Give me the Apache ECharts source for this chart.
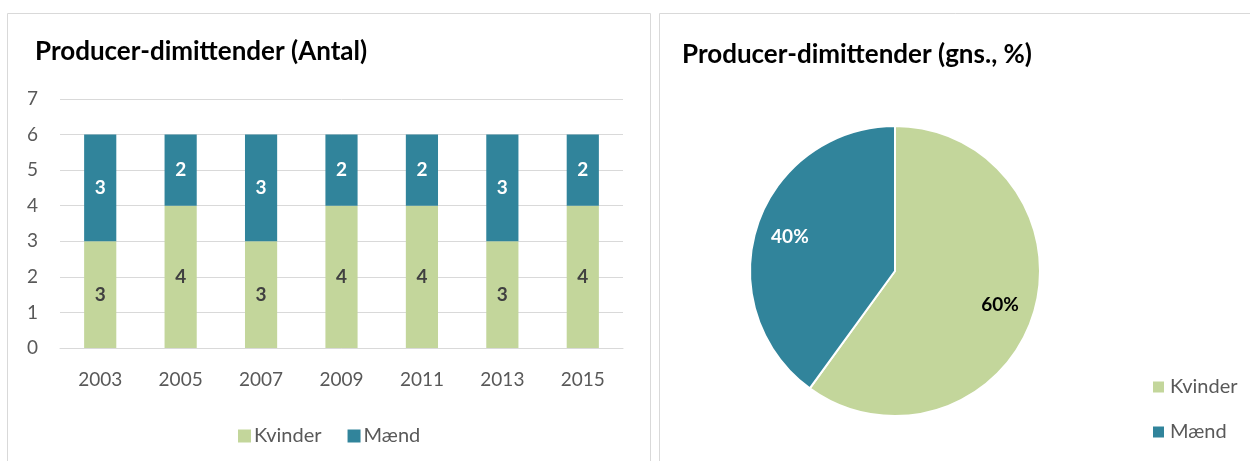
<!DOCTYPE html>
<html>
<head>
<meta charset="utf-8">
<script src="https://cdn.jsdelivr.net/npm/echarts@6/dist/echarts.min.js"></script>
<style>
  html, body { margin: 0; padding: 0; background: #fff; }
  #main { width: 1250px; height: 461px; }
</style>
</head>
<body>
<div id="main"></div>
<script>
// data
const years = ['2003', '2005', '2007', '2009', '2011', '2013', '2015']
const kvinder = [3, 4, 3, 4, 4, 3, 4]
const maend = [3, 2, 3, 2, 2, 3, 2]
const pieNames = ['Kvinder', 'Mænd']
const pieShares = [60, 40]

const green = '#C3D69B'
const teal = '#31849B'
const textGray = '#595959'
const font = 'Lato'

const pieData = pieNames.map((n, i) => ({ name: n, value: pieShares[i] }))

const chart = echarts.init(document.getElementById('main'))

chart.setOption({
  animation: false,
  textStyle: { fontFamily: font },
  // panel frames
  graphic: [
    { type: 'rect', shape: { x: 7.5, y: 13.5, width: 643, height: 460 }, style: { fill: 'none', stroke: '#d9d9d9', lineWidth: 1 }, silent: true },
    { type: 'rect', shape: { x: 659.5, y: 13.5, width: 600, height: 460 }, style: { fill: 'none', stroke: '#d9d9d9', lineWidth: 1 }, silent: true }
  ],
  title: [
    {
      text: 'Producer-dimittender (Antal)',
      left: 30, top: 34,
      textStyle: { fontFamily: font, fontSize: 26, fontWeight: 'bold', color: '#000' }
    },
    {
      text: 'Producer-dimittender (gns., %)',
      left: 677, top: 37,
      textStyle: { fontFamily: font, fontSize: 26, fontWeight: 'bold', color: '#000' }
    }
  ],
  legend: [
    {
      data: ['Kvinder', 'Mænd'],
      left: 233, top: 421,
      icon: 'rect', itemWidth: 13, itemHeight: 13, itemGap: 26,
      textStyle: { fontFamily: font, fontSize: 20, color: textGray, padding: [0, 0, 0, -2] }
    },
    {
      data: pieNames,
      orient: 'vertical',
      left: 1148, top: 372,
      icon: 'rect', itemWidth: 11, itemHeight: 11, itemGap: 25,
      textStyle: { fontFamily: font, fontSize: 20, color: textGray, padding: [0, 0, 0, 1] }
    }
  ],
  grid: { left: 60, right: 627, top: 99, height: 249 },
  xAxis: {
    type: 'category',
    data: years,
    axisTick: { show: false },
    axisLine: { lineStyle: { color: '#d9d9d9' } },
    axisLabel: { color: textGray, fontSize: 19, margin: 22, fontFamily: font }
  },
  yAxis: {
    type: 'value',
    min: 0, max: 7, interval: 1,
    axisLine: { show: false },
    axisTick: { show: false },
    splitLine: { lineStyle: { color: '#d9d9d9' } },
    axisLabel: { color: textGray, fontSize: 19, margin: 22, fontFamily: font }
  },
  series: [
    {
      name: 'Kvinder',
      type: 'bar',
      stack: 'total',
      barWidth: '40%',
      data: kvinder,
      itemStyle: { color: green },
      label: { show: true, position: 'inside', color: '#404040', fontWeight: 'bold', fontSize: 19, fontFamily: font }
    },
    {
      name: 'Mænd',
      type: 'bar',
      stack: 'total',
      data: maend,
      itemStyle: { color: teal },
      label: { show: true, position: 'inside', color: '#fff', fontWeight: 'bold', fontSize: 19, fontFamily: font }
    },
    {
      name: 'Andel',
      type: 'pie',
      center: [895, 271],
      radius: 145,
      startAngle: 90,
      clockwise: true,
      data: pieData,
      color: [green, teal],
      itemStyle: { borderColor: '#fff', borderWidth: 2 },
      label: { show: false },
      labelLine: { show: false }
    },
    {
      // transparent ring carrying the percentage labels further out in each slice
      name: 'Andel-labels',
      type: 'pie',
      center: [895, 271],
      radius: [70, 145],
      startAngle: 90,
      clockwise: true,
      silent: true,
      data: pieData.map((d, i) => ({
        name: d.name,
        value: d.value,
        label: { color: i === 0 ? '#000' : '#fff' }
      })),
      itemStyle: { color: 'rgba(0,0,0,0)', borderWidth: 0 },
      label: {
        show: true, position: 'inside',
        formatter: '{c}%',
        fontWeight: 'bold', fontSize: 19, fontFamily: font
      },
      labelLine: { show: false },
      emphasis: { disabled: true }
    }
  ]
})
</script>
</body>
</html>
